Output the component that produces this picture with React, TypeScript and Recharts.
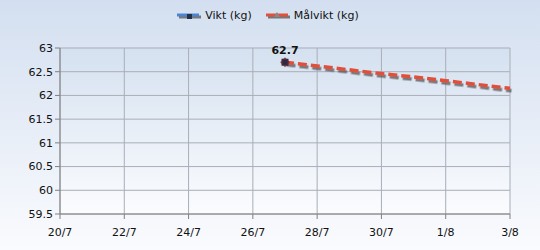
import { LineChart, Line, XAxis, YAxis, CartesianGrid } from 'recharts';

// days counted from 20/7
const days = [7, 8, 9, 10, 11, 12, 13, 14];
const vikt = [62.7, null, null, null, null, null, null, null];
const malvikt = [62.7, 62.62, 62.54, 62.46, 62.39, 62.31, 62.23, 62.15];

const dayTicks = [0, 2, 4, 6, 8, 10, 12, 14];
const tickLabels = ['20/7', '22/7', '24/7', '26/7', '28/7', '30/7', '1/8', '3/8'];
const yTicks = [59.5, 60, 60.5, 61, 61.5, 62, 62.5, 63];

const chartData = days.map((d, i) => ({ day: d, vikt: vikt[i], malvikt: malvikt[i] }));

const font = '"DejaVu Sans", Verdana, sans-serif';

const StarDot = (props: any) => {
  const { cx, cy } = props;
  if (cx == null || cy == null || props.value == null) return null;
  return (
    <g>
      <rect x={cx - 3.5} y={cy - 3.5} width={7} height={7} fill="#2b2a45" />
      <rect x={cx - 3.5} y={cy - 3.5} width={7} height={7} fill="#7a2a30" transform={`rotate(45 ${cx} ${cy})`} opacity={0.8} />
      <rect x={cx - 2.5} y={cy - 2.5} width={5} height={5} fill="#2b2a45" />
    </g>
  );
};

const ChartLegend = () => (
  <div style={{ position: 'absolute', top: 9, left: 0, width: 540, display: 'flex', justifyContent: 'center', gap: 14, fontFamily: font, fontSize: 11, color: '#111', marginLeft: -2 }}>
    <span style={{ display: 'flex', alignItems: 'center' }}>
      <svg width={24} height={10} style={{ marginRight: 4 }}>
        <line x1={2} y1={6} x2={24} y2={6} stroke="#777" strokeWidth={3} />
        <line x1={0} y1={4} x2={22} y2={4} stroke="#4a86d0" strokeWidth={3} />
        <rect x={10} y={3} width={5} height={5} fill="#22304a" />
      </svg>
      Vikt (kg)
    </span>
    <span style={{ display: 'flex', alignItems: 'center' }}>
      <svg width={24} height={10} style={{ marginRight: 4 }}>
        <line x1={2} y1={6} x2={24} y2={6} stroke="#777" strokeWidth={3} />
        <line x1={0} y1={4} x2={22} y2={4} stroke="#e0503a" strokeWidth={3} />
        <path d="M11 1 L14 6 L8 6 Z" fill="#888" />
      </svg>
      Målvikt (kg)
    </span>
  </div>
);

export default function App() {
  return (
    <div style={{ position: 'relative', width: 540, height: 250, background: 'linear-gradient(#d3dff0, #fafbfe)' }}>
      <style>{'body{margin:0}'}</style>
      <ChartLegend />
      <LineChart width={540} height={250} data={chartData} margin={{ top: 48, right: 30, left: 0, bottom: 0 }}>
        <defs>
          <linearGradient id="plotBg" x1="0" y1="0" x2="0" y2="1">
            <stop offset="0%" stopColor="#d5e1f0" />
            <stop offset="100%" stopColor="#fbfcfe" />
          </linearGradient>
          <filter id="sh" x="-10%" y="-50%" width="120%" height="200%">
            <feDropShadow dx="1.5" dy="2.5" stdDeviation="0.4" floodColor="#555" floodOpacity="0.75" />
          </filter>
        </defs>
        <CartesianGrid stroke="#a8aeb8" fill="url(#plotBg)" />
        <XAxis
          dataKey="day"
          type="number"
          domain={[0, 14]}
          ticks={dayTicks}
          tickFormatter={(v: number) => tickLabels[dayTicks.indexOf(v)]}
          height={36}
          stroke="#808080"
          tickSize={5}
          tickMargin={9}
          tick={{ fill: '#111', fontSize: 11, fontFamily: font }}
        />
        <YAxis
          type="number"
          domain={[59.5, 63]}
          ticks={yTicks}
          width={60}
          stroke="#808080"
          tickSize={5}
          tick={{ fill: '#111', fontSize: 11, fontFamily: font }}
        />
        <Line
          dataKey="malvikt"
          stroke="#e0503a"
          strokeWidth={3.5}
          strokeDasharray="9 4"
          dot={false}
          filter="url(#sh)"
          isAnimationActive={false}
        />
        <Line
          dataKey="vikt"
          stroke="#4a86d0"
          strokeWidth={3}
          dot={<StarDot />}
          label={{ position: 'top', offset: 8, fill: '#111', fontSize: 11, fontWeight: 'bold', fontFamily: font }}
          isAnimationActive={false}
        />
      </LineChart>
    </div>
  );
}
